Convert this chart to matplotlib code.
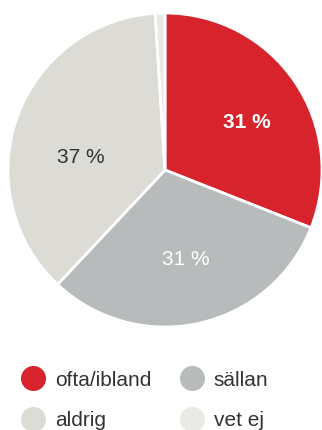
import matplotlib
matplotlib.use('Agg')
import matplotlib.pyplot as plt
from matplotlib.lines import Line2D
import numpy as np

plt.rcParams['font.family'] = ['Liberation Sans', 'DejaVu Sans']

categories = ['ofta/ibland', 'sällan', 'aldrig', 'vet ej']
values     = [31, 31, 37, 1]
labels     = ['31 %', '31 %', '37 %', '']
colors     = ['#D7232B', '#B8BBBC', '#DCDBD6', '#E9E9E5']
label_col  = ['white', 'white', '#333333', '#333333']
label_pos  = [(0.60, 30), (0.585, -77), (0.545, 171.5), None]  # (radius, angle deg)

fig = plt.figure(figsize=(3.22, 4.30), dpi=100)
ax = fig.add_axes([8/322, 1 - 327/430, 314/322, 314/430])

wedges, _ = ax.pie(values, colors=colors, startangle=90, counterclock=False,
                   wedgeprops=dict(edgecolor='white', linewidth=2))
ax.set_xlim(-1, 1); ax.set_ylim(-1, 1)
ax.axis('off')

for lab, col, pos, wt in zip(labels, label_col, label_pos, ['bold', 'normal', 'normal', 'normal']):
    if not lab:
        continue
    r, a = pos
    ax.text(r * np.cos(np.deg2rad(a)), r * np.sin(np.deg2rad(a)), lab, color=col,
            fontsize=15, ha='center', va='center', fontweight=wt)

order = [0, 2, 1, 3]
handles = [Line2D([], [], marker='o', linestyle='', markersize=17,
                  markerfacecolor=colors[i], markeredgecolor=colors[i]) for i in order]
fig.legend(handles, [categories[i] for i in order], ncol=2, loc='upper left',
           bbox_to_anchor=(6/322, 1 - 356/430), frameon=False, fontsize=15,
           labelcolor='#333333', handlelength=1.2, handletextpad=0.45,
           columnspacing=1.35, labelspacing=1.05, borderaxespad=0.3)

fig.savefig('out.png', dpi=100)
